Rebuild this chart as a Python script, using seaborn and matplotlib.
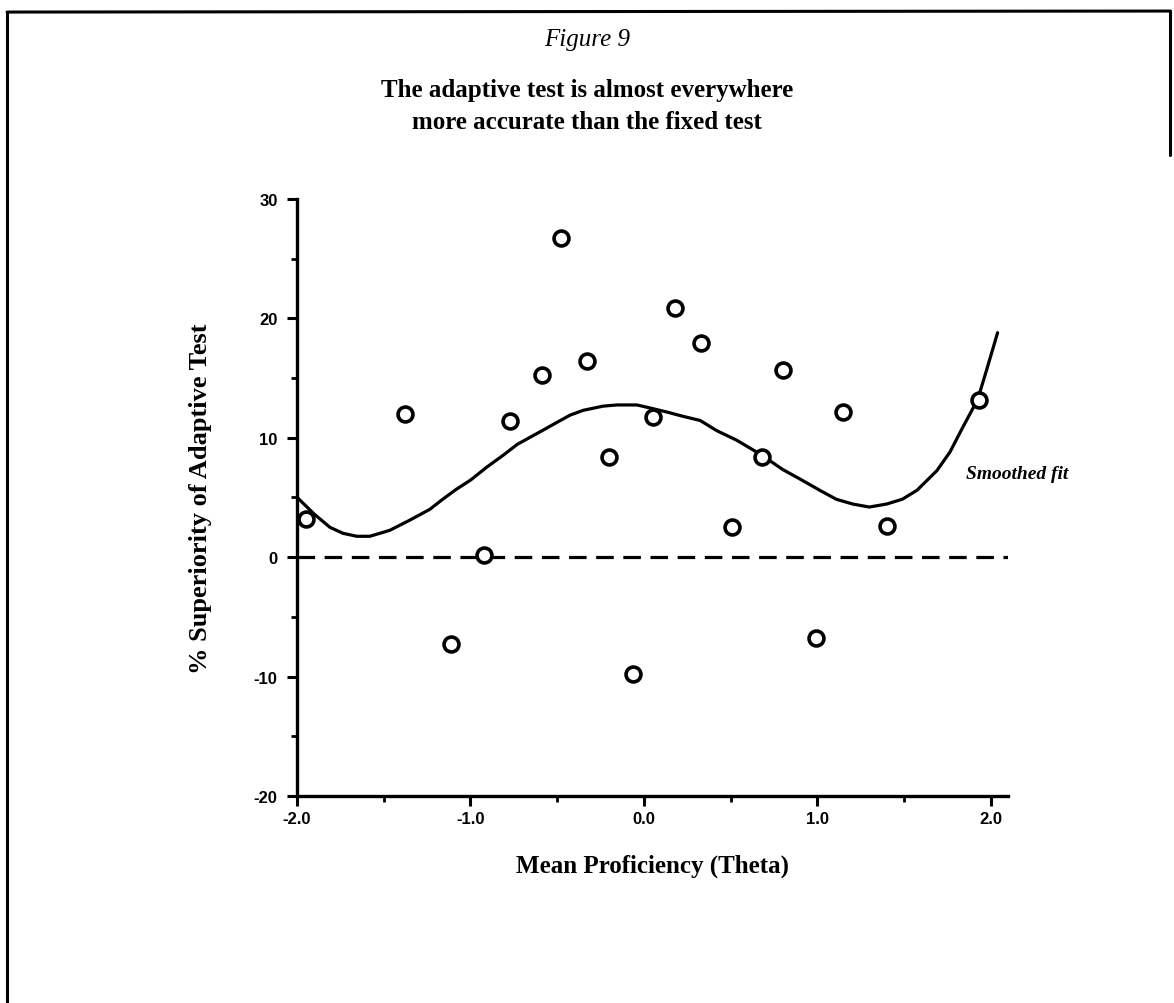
import numpy as np
import pandas as pd
import seaborn as sns
import matplotlib.pyplot as plt
from matplotlib.lines import Line2D
from matplotlib.ticker import MultipleLocator

# observed points
theta = [-1.95, -1.38, -1.11, -0.92, -0.77, -0.59, -0.48, -0.33, -0.20, -0.06,
         0.05, 0.18, 0.33, 0.51, 0.68, 0.80, 0.99, 1.15, 1.40, 1.93]
superiority = [3.2, 12.0, -7.3, 0.2, 11.4, 15.3, 26.7, 16.4, 8.4, -9.8,
               11.7, 20.9, 17.9, 2.5, 8.4, 15.7, -6.8, 12.2, 2.6, 13.2]

# smoothed fit
fit_x = [-2.02, -1.90, -1.81, -1.735, -1.655, -1.58, -1.465, -1.35, -1.235, -1.16,
         -1.08, -1.00, -0.905, -0.81, -0.73, -0.655, -0.58, -0.50, -0.425, -0.35,
         -0.235, -0.155, -0.04, 0.035, 0.135, 0.225, 0.325, 0.42, 0.535, 0.68,
         0.80, 0.90, 1.015, 1.11, 1.205, 1.30, 1.40, 1.49, 1.575, 1.69,
         1.765, 1.84, 1.925, 1.975, 2.04]
fit_y = [5.3, 3.6, 2.5, 2.0, 1.75, 1.75, 2.25, 3.1, 4.0, 4.85,
         5.7, 6.45, 7.55, 8.55, 9.45, 10.05, 10.65, 11.3, 11.9, 12.3,
         12.65, 12.75, 12.75, 12.5, 12.15, 11.8, 11.45, 10.6, 9.8, 8.55,
         7.35, 6.55, 5.6, 4.85, 4.45, 4.2, 4.45, 4.85, 5.6, 7.25,
         8.8, 10.9, 13.2, 15.6, 18.8]

xticks = [-2.0, -1.0, 0.0, 1.0, 2.0]
xticklabels = ['-2.0', '-1.0', '0.0', '1.0', '2.0']
yticks = [-20, -10, 0, 10, 20, 30]
yticklabels = ['-20', '-10', '0', '10', '20', '30']

pts = pd.DataFrame({'theta': theta, 'sup': superiority})
fit = pd.DataFrame({'theta': fit_x, 'sup': fit_y})

sns.set_style('ticks', rc={'axes.edgecolor': 'black', 'text.color': 'black',
                           'axes.labelcolor': 'black', 'xtick.color': 'black',
                           'ytick.color': 'black'})
plt.rcParams['font.family'] = ['Liberation Serif', 'DejaVu Serif']

fig = plt.figure(figsize=(11.74, 10.04), dpi=100)
ax = fig.add_axes([0.253, 0.2062, 0.6056, 0.5946])

ax.axhline(0, color='black', lw=2.3, dashes=(5.5, 3))
sns.lineplot(data=fit, x='theta', y='sup', ax=ax, color='black', lw=2.3, sort=False,
             solid_joinstyle='round', solid_capstyle='round')
sns.scatterplot(data=pts, x='theta', y='sup', ax=ax, s=115, marker='o',
                facecolor='white', edgecolor='black', linewidth=2.6, zorder=5)

ax.set_xlim(-2.0, 2.1)
ax.set_ylim(-20, 30)
ax.set_xticks(xticks)
ax.set_xticklabels(xticklabels)
ax.set_yticks(yticks)
ax.set_yticklabels(yticklabels)
ax.xaxis.set_minor_locator(MultipleLocator(0.5))
ax.yaxis.set_minor_locator(MultipleLocator(5))
ax.tick_params(which='major', length=7, width=2.2, direction='out', pad=4)
ax.tick_params(axis='y', which='major', pad=7)
ax.tick_params(which='minor', length=4, width=2.0, direction='out')
for lab in ax.get_xticklabels() + ax.get_yticklabels():
    lab.set_family(['Liberation Sans', 'DejaVu Sans'])
    lab.set_fontweight('bold')
    lab.set_fontsize(12)

sns.despine(ax=ax)
for s in ['left', 'bottom']:
    ax.spines[s].set_linewidth(2.4)

ax.set_xlabel('Mean Proficiency (Theta)', fontsize=18, fontweight='bold', labelpad=20)
ax.set_ylabel('% Superiority of Adaptive Test', fontsize=19, fontweight='bold', labelpad=30)

ax.text(1.86, 7.0, 'Smoothed fit', fontsize=14, style='italic', fontweight='bold',
        ha='left', va='center', clip_on=False)

fig.text(0.5, 0.96, 'Figure 9', fontsize=18, style='italic', ha='center', va='center')
fig.text(0.5, 0.910, 'The adaptive test is almost everywhere', fontsize=18,
         fontweight='bold', ha='center', va='center')
fig.text(0.5, 0.878, 'more accurate than the fixed test', fontsize=18,
         fontweight='bold', ha='center', va='center')

# scanned page frame
fig.add_artist(Line2D([0.006, 0.006], [0.0, 0.987], color='black', lw=2.2))
fig.add_artist(Line2D([0.006, 0.997], [0.987, 0.988], color='black', lw=2.2))
fig.add_artist(Line2D([0.997, 0.997], [0.988, 0.845], color='black', lw=2.2))

fig.savefig('out.png', dpi=100)
